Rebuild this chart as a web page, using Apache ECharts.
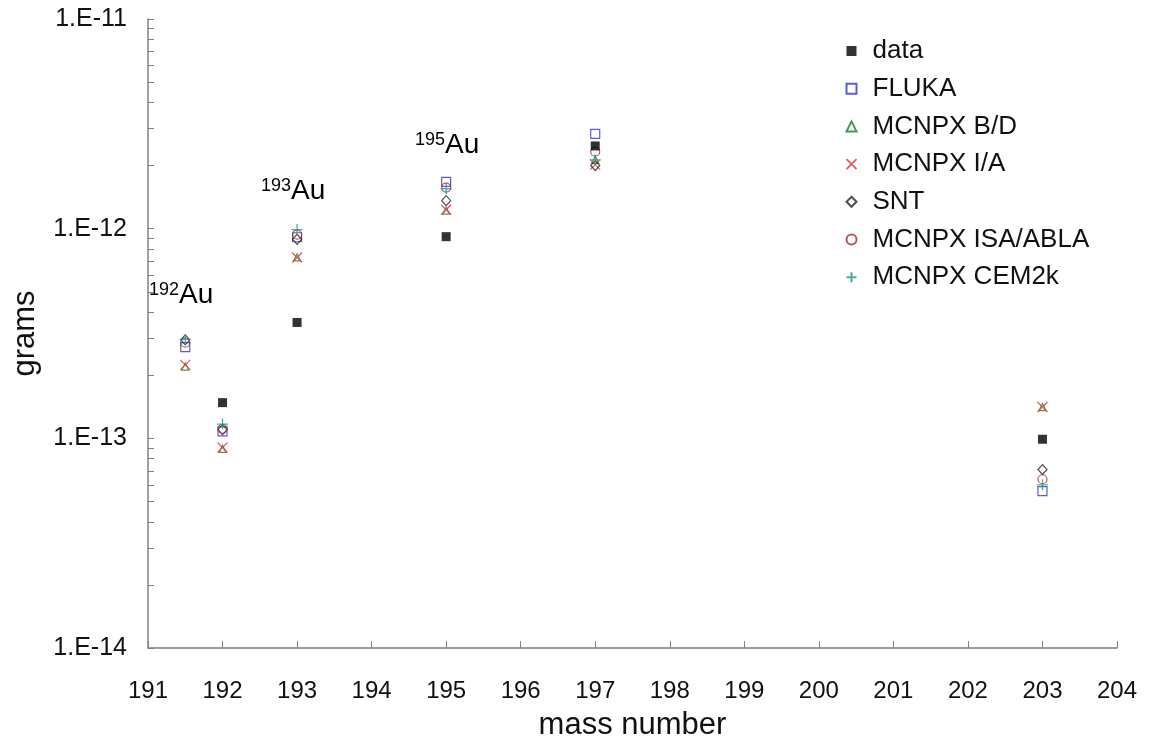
<!DOCTYPE html>
<html>
<head>
<meta charset="utf-8">
<script src="https://cdn.jsdelivr.net/npm/echarts@6/dist/echarts.min.js"></script>
<style>
  html, body { margin: 0; padding: 0; background: #fff; }
  #chart { width: 1157px; height: 742px; }
</style>
</head>
<body>
<div id="chart"></div>
<script>
// Mass numbers of the measured gold isotopes
const massNumbers = [191.5, 192, 193, 195, 197, 203];

// Produced mass (grams) per isotope; null where a value is not available
const dataValues   = [null,    1.48e-13, 3.57e-13, 9.16e-13, 2.48e-12, 9.9e-14];
const flukaValues  = [2.72e-13, 1.08e-13, 9.1e-13, 1.67e-12, 2.83e-12, 5.6e-14];
const bdValues     = [2.2e-13, 8.9e-14, 7.3e-13, 1.22e-12, 2.13e-12, 1.41e-13];
const iaValues     = [2.24e-13, 9.05e-14, 7.28e-13, 1.23e-12, 2.02e-12, 1.41e-13];
const sntValues    = [2.95e-13, 1.1e-13, 8.9e-13, 1.36e-12, 2.0e-12, 7.1e-14];
const ablaValues   = [2.86e-13, 1.11e-13, 9.36e-13, 1.57e-12, 2.33e-12, 6.38e-14];
const cemValues    = [2.96e-13, 1.17e-13, 9.9e-13, 1.55e-12, 2.13e-12, 6.0e-14];

const seriesNames = ['data', 'FLUKA', 'MCNPX B/D', 'MCNPX I/A', 'SNT', 'MCNPX ISA/ABLA', 'MCNPX CEM2k'];

// Log-axis ticks: decades plus the 2..9 sub-ticks in each decade
const decadeTicks = [1e-14, 1e-13, 1e-12, 1e-11];
const minorTicks = [];
for (let d = -14; d <= -12; d++) {
  for (let m = 2; m <= 9; m++) minorTicks.push(m * Math.pow(10, d));
}

// Isotope annotations
const isotopeLabels = [
  { mass: '192', el: 'Au', left: 149, top: 281 },
  { mass: '193', el: 'Au', left: 261, top: 177 },
  { mass: '195', el: 'Au', left: 415, top: 131 }
];

const pairs = vals => massNumbers.map((x, i) => [x, vals[i]]).filter(p => p[1] !== null);

const xPath = 'path://M0,0L10,10M10,0L0,10';
const plusPath = 'path://M5,0L5,10M0,5L10,5';

const FONT = '"Liberation Sans", Arial, sans-serif';

const chart = echarts.init(document.getElementById('chart'), null, { renderer: 'canvas' });

function hollow(color, bw) {
  return { color: 'none', borderColor: color, borderWidth: bw || 1 };
}

const option = {
  backgroundColor: '#ffffff',
  animation: false,
  textStyle: { fontFamily: FONT },
  grid: {
    left: 148, top: 19, right: 40, bottom: 94,
    containLabel: false,
    outerBoundsMode: 'none'
  },
  legend: {
    orient: 'vertical',
    left: 839,
    top: 33,
    itemWidth: 10,
    itemHeight: 10,
    itemGap: 11.7,
    data: seriesNames,
    textStyle: {
      fontFamily: FONT, fontSize: 26, color: '#111', lineHeight: 24,
      padding: [0, 0, 0, 11]
    }
  },
  xAxis: {
    type: 'value',
    min: 191,
    max: 204,
    interval: 1,
    name: 'mass number',
    nameLocation: 'middle',
    nameGap: 62,
    nameTextStyle: { fontFamily: FONT, fontSize: 31, color: '#111' },
    axisLine: { show: true, onZero: false, lineStyle: { color: '#808080', width: 1.5 } },
    axisTick: { show: true, inside: true, length: 7, lineStyle: { color: '#808080' } },
    axisLabel: { fontFamily: FONT, fontSize: 24, color: '#111', margin: 31 },
    splitLine: { show: false }
  },
  yAxis: {
    type: 'log',
    logBase: 10,
    min: 1e-14,
    max: 1e-11,
    name: 'grams',
    nameLocation: 'middle',
    nameGap: 107,
    nameTextStyle: { fontFamily: FONT, fontSize: 31, color: '#111' },
    axisLine: { show: true, lineStyle: { color: '#808080', width: 1.5 } },
    axisTick: {
      show: true, inside: true, length: 6,
      lineStyle: { color: '#808080' },
      customValues: decadeTicks.concat(minorTicks)
    },
    axisLabel: {
      fontFamily: FONT, fontSize: 25, color: '#111', margin: 21,
      customValues: decadeTicks,
      formatter: v => '1.E' + Math.round(Math.log10(v))
    },
    splitLine: { show: false }
  },
  graphic: isotopeLabels.map(l => ({
    type: 'text',
    left: l.left,
    top: l.top,
    style: {
      text: '{sup|' + l.mass + '}{el|' + l.el + '}',
      rich: {
        sup: { fontFamily: FONT, fontSize: 18, color: '#111', verticalAlign: 'top', padding: [0, 0, 11, 0] },
        el: { fontFamily: FONT, fontSize: 28, color: '#111' }
      }
    }
  })),
  series: [
    {
      name: 'data', type: 'scatter', z: 5,
      symbol: 'rect', symbolSize: 9,
      itemStyle: { color: '#000' },
      data: pairs(dataValues)
    },
    {
      name: 'FLUKA', type: 'scatter',
      symbol: 'rect', symbolSize: 9,
      itemStyle: hollow('#3333cc', 1.2),
      data: pairs(flukaValues)
    },
    {
      name: 'MCNPX B/D', type: 'scatter',
      symbol: 'triangle', symbolSize: 7,
      itemStyle: hollow('#1b7a2a', 1.2),
      data: pairs(bdValues)
    },
    {
      name: 'MCNPX I/A', type: 'scatter',
      symbol: xPath, symbolSize: 10,
      itemStyle: hollow('#e03838', 1.3),
      data: pairs(iaValues)
    },
    {
      name: 'SNT', type: 'scatter',
      symbol: 'diamond', symbolSize: [9, 10],
      itemStyle: hollow('#222', 1.2),
      data: pairs(sntValues)
    },
    {
      name: 'MCNPX ISA/ABLA', type: 'scatter',
      symbol: 'circle', symbolSize: 9,
      itemStyle: hollow('#a82a2a', 1.2),
      data: pairs(ablaValues)
    },
    {
      name: 'MCNPX CEM2k', type: 'scatter',
      symbol: plusPath, symbolSize: 11,
      itemStyle: hollow('#1a9a8c', 1.3),
      data: pairs(cemValues)
    }
  ]
};

chart.setOption(option);
</script>
</body>
</html>
